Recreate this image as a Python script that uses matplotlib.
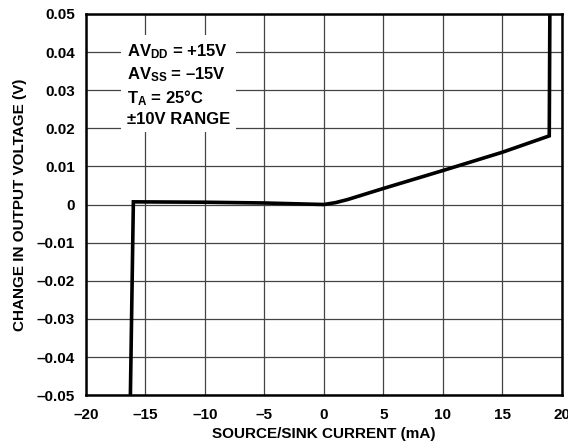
import numpy as np
import matplotlib
matplotlib.use("Agg")
import matplotlib.pyplot as plt

plt.rcParams['font.family'] = 'Liberation Sans'
plt.rcParams['font.weight'] = 'bold'
plt.rcParams['mathtext.fontset'] = 'custom'
plt.rcParams['mathtext.rm'] = 'Liberation Sans:bold'
plt.rcParams['mathtext.it'] = 'Liberation Sans:bold'
plt.rcParams['mathtext.bf'] = 'Liberation Sans:bold'

# curve
current_ma = [-16.25, -16.0, -10.0, -5.0, 0.0, 1.0, 2.0, 5.0, 10.0, 15.0, 18.95, 19.0]
delta_v = [-0.05, 0.0007, 0.0006, 0.0004, 0.0, 0.0005, 0.0013, 0.0042, 0.0089, 0.0137, 0.018, 0.05]

x_ticks = [-20, -15, -10, -5, 0, 5, 10, 15, 20]
y_ticks = [-0.05, -0.04, -0.03, -0.02, -0.01, 0, 0.01, 0.02, 0.03, 0.04, 0.05]

fig = plt.figure(figsize=(5.68, 4.48), dpi=100)
ax = fig.add_axes([0.151, 0.118, 0.838, 0.851])

ax.plot(current_ma, delta_v, color='black', lw=2.6, solid_joinstyle='miter', zorder=3)

ax.set_xlim(-20, 20)
ax.set_ylim(-0.05, 0.05)
ax.set_xticks(x_ticks)
ax.set_yticks(y_ticks)
ax.set_xticklabels([str(t).replace('-', '\u2013') for t in x_ticks], fontsize=11, fontweight='bold')
ax.set_yticklabels(['0' if t == 0 else f'{t:.2f}'.replace('-', '\u2013') for t in y_ticks],
                   fontsize=11, fontweight='bold')
ax.tick_params(axis='x', length=0, pad=9)
ax.tick_params(axis='y', length=0, pad=8)
ax.grid(True, color='#444444', lw=0.9, zorder=1)
for s in ax.spines.values():
    s.set_linewidth(1.8)

ax.set_xlabel('SOURCE/SINK CURRENT (mA)', fontsize=11, fontweight='bold', labelpad=4)
ax.set_ylabel('CHANGE IN OUTPUT VOLTAGE (V)', fontsize=11, fontweight='bold', labelpad=7)

note = ('AV$_{\\mathrm{DD}}$ = +15V\n'
        'AV$_{\\mathrm{SS}}$ = \u201315V\n'
        'T$_{\\mathrm{A}}$ = 25\u00b0C\n'
        '\u00b110V RANGE')
ax.text(-16.55, 0.0425, note, fontsize=12, fontweight='bold', va='top', ha='left',
        linespacing=1.3, zorder=2,
        bbox=dict(facecolor='white', edgecolor='none', pad=4))

fig.savefig('out.png', dpi=100)
